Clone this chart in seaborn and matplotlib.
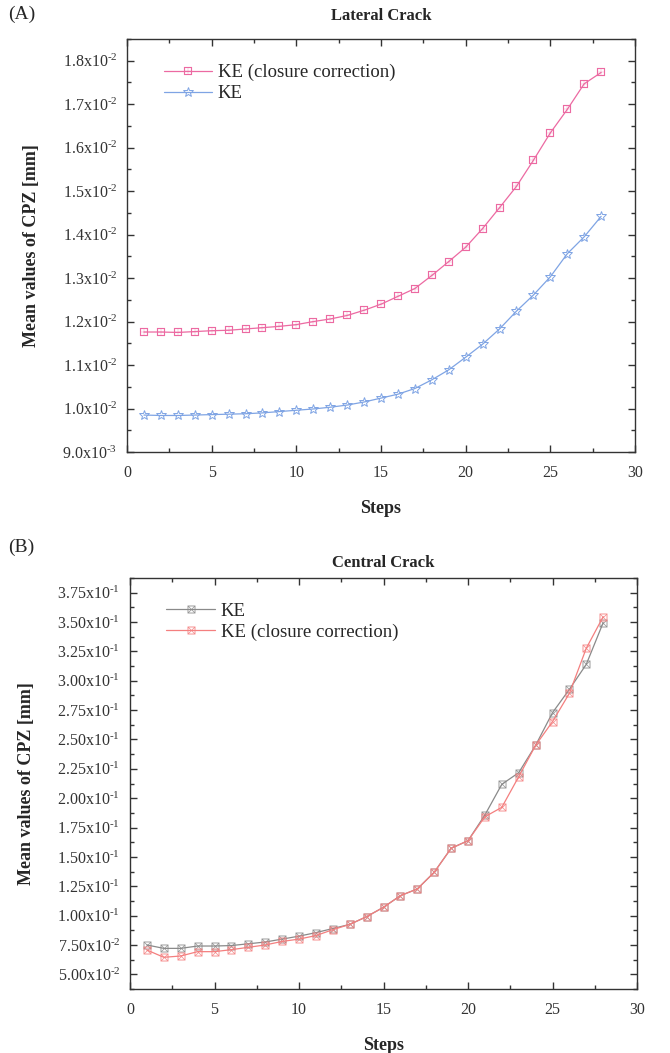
import matplotlib
matplotlib.use("Agg")
import matplotlib.pyplot as plt
import matplotlib.ticker as mticker
import numpy as np
import pandas as pd
import seaborn as sns

# ---- data -------------------------------------------------------------
steps = list(range(1, 29))

lateral_ke_closure = [0.01176, 0.01176, 0.01175, 0.01177, 0.01179, 0.01180, 0.01183,
                      0.01186, 0.01189, 0.01193, 0.01200, 0.01206, 0.01214, 0.01226,
                      0.01240, 0.01258, 0.01276, 0.01306, 0.01338, 0.01371, 0.01414,
                      0.01462, 0.01511, 0.01571, 0.01634, 0.01688, 0.01747, 0.01773]
lateral_ke = [0.00985, 0.00984, 0.00984, 0.00985, 0.00986, 0.00987, 0.00988,
              0.00990, 0.00993, 0.00996, 0.00999, 0.01003, 0.01008, 0.01015,
              0.01024, 0.01033, 0.01046, 0.01066, 0.01089, 0.01118, 0.01148,
              0.01183, 0.01224, 0.01261, 0.01303, 0.01356, 0.01395, 0.01442]

central_ke = [0.0750, 0.0721, 0.0721, 0.0741, 0.0741, 0.0745, 0.0760, 0.0775,
              0.0800, 0.0825, 0.0855, 0.0890, 0.0925, 0.0991, 0.1071, 0.1170,
              0.1227, 0.1369, 0.1573, 0.1638, 0.1857, 0.2118, 0.2217, 0.2450,
              0.2728, 0.2927, 0.3140, 0.3495]
central_ke_closure = [0.0707, 0.0645, 0.0656, 0.0693, 0.0693, 0.0710, 0.0730, 0.0750,
                      0.0780, 0.0800, 0.0830, 0.0880, 0.0925, 0.0991, 0.1071, 0.1170,
                      0.1227, 0.1369, 0.1573, 0.1638, 0.1842, 0.1922, 0.2183, 0.2450,
                      0.2652, 0.2893, 0.3277, 0.3546]

# ---- style ------------------------------------------------------------
sns.set_theme(style="ticks")
plt.rcParams.update({
    "font.family": ["Liberation Serif", "DejaVu Serif"],
    "mathtext.fontset": "custom",
    "mathtext.rm": "Liberation Serif",
    "mathtext.it": "Liberation Serif:italic",
    "mathtext.bf": "Liberation Serif:bold",
    "mathtext.default": "regular",
    "axes.unicode_minus": False,
    "axes.linewidth": 1.0,
    "axes.edgecolor": "#333333",
    "xtick.color": "#333333",
    "ytick.color": "#333333",
})

PINK = "#ec6aa2"
BLUE = "#7fa4e4"
GREY = "#8a8a8a"
SALMON = "#f47f7f"


def sci_fmt(decimals):
    def fmt(v, pos):
        m, e = f"{v:.{decimals}e}".split("e")
        return f"{m}x10$^{{\\text{{{int(e)}}}}}$"
    return mticker.FuncFormatter(fmt)


def style_axes(ax, ymajor, ylim, decimals):
    ax.set_xlim(0, 30)
    ax.set_ylim(*ylim)
    ax.xaxis.set_major_locator(mticker.MultipleLocator(5))
    ax.xaxis.set_minor_locator(mticker.MultipleLocator(2.5))
    ax.yaxis.set_major_locator(mticker.MultipleLocator(ymajor))
    ax.yaxis.set_minor_locator(mticker.MultipleLocator(ymajor / 2))
    ax.yaxis.set_major_formatter(sci_fmt(decimals))
    ax.tick_params(which="both", direction="in", top=True, right=True,
                   labelsize=11.5, width=1.0)
    ax.tick_params(axis="x", pad=9)
    ax.tick_params(axis="y", pad=7)
    ax.tick_params(which="major", length=5)
    ax.tick_params(which="minor", length=3)
    for s in ax.spines.values():
        s.set_visible(True)
    ax.set_xlabel("Steps", fontsize=13, fontweight="bold", labelpad=14)
    ax.set_ylabel("Mean values of CPZ [mm]", fontsize=13, fontweight="bold",
                  labelpad=16)


fig = plt.figure(figsize=(6.7, 10.53), dpi=100)

# ---- (A) Lateral crack ------------------------------------------------
ax1 = fig.add_axes([127 / 670, 1 - 452 / 1053, 508 / 670, 413 / 1053])
sns.lineplot(x=steps, y=lateral_ke_closure, ax=ax1, color=PINK, lw=0.9,
             marker=r"$\boxplus$", markersize=5.5, markerfacecolor=PINK,
             markeredgecolor=PINK, markeredgewidth=0.1,
             label="KE (closure correction)")
sns.lineplot(x=steps, y=lateral_ke, ax=ax1, color=BLUE, lw=0.9,
             marker="*", markersize=7, markerfacecolor="none",
             markeredgecolor=BLUE, markeredgewidth=0.7, label="KE")
style_axes(ax1, 0.001, (0.009, 0.0185), 1)
ax1.set_title("Lateral Crack", fontsize=12, fontweight="bold", pad=14)
ax1.legend(loc="upper left", frameon=False, fontsize=13.5, handlelength=2.6,
           handletextpad=0.3, labelspacing=0.2, borderaxespad=0.6,
           bbox_to_anchor=(0.035, 0.985))
fig.text(8 / 670, 1 - 14 / 1053, "(A)", fontsize=14, va="center", ha="left")

# ---- (B) Central crack ------------------------------------------------
ax2 = fig.add_axes([130 / 670, 1 - 989 / 1053, 507 / 670, 411 / 1053])
sns.lineplot(x=steps, y=central_ke, ax=ax2, color=GREY, lw=0.9,
             marker=r"$\boxtimes$", markersize=5.5, markerfacecolor=GREY,
             markeredgecolor=GREY, markeredgewidth=0.1, label="KE")
sns.lineplot(x=steps, y=central_ke_closure, ax=ax2, color=SALMON, lw=0.9,
             marker=r"$\boxtimes$", markersize=5.5, markerfacecolor=SALMON,
             markeredgecolor=SALMON, markeredgewidth=0.1,
             label="KE (closure correction)")
style_axes(ax2, 0.025, (0.0375, 0.3875), 2)
ax2.set_title("Central Crack", fontsize=12, fontweight="bold", pad=8)
ax2.legend(loc="upper left", frameon=False, fontsize=13.5, handlelength=2.6,
           handletextpad=0.3, labelspacing=0.2, borderaxespad=0.6,
           bbox_to_anchor=(0.035, 0.985))
fig.text(8 / 670, 1 - 547 / 1053, "(B)", fontsize=14, va="center", ha="left")

fig.savefig("out.png", dpi=100)
